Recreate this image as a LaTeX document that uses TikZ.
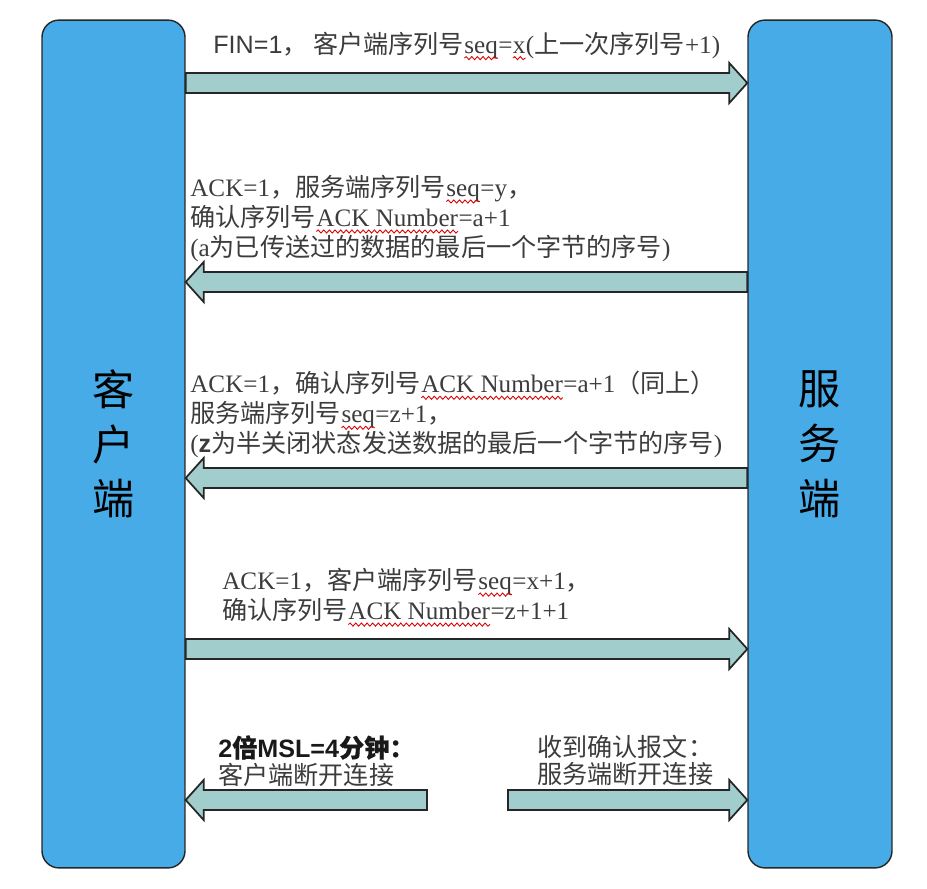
\documentclass[tikz,border=0pt]{standalone}
\usepackage{fontspec}
\setmainfont{Noto Sans CJK SC}
\newfontfamily\en{Liberation Serif}
\newfontfamily\ensans{Liberation Sans}
\newfontfamily\cjkbold[FakeBold=0.5]{Noto Sans CJK SC}
\usepackage{tikz}
\usetikzlibrary{calc,positioning,decorations.pathmorphing}
\usepackage{xcolor}
\definecolor{hostblue}{HTML}{47ABE8}
\definecolor{pipeteal}{HTML}{A2CDCD}
\definecolor{msggray}{HTML}{3C3C3C}
\tikzset{
  hostbar/.style={
    rounded corners=0.34cm,
    draw=black!85,
    fill=hostblue,
    line width=0.8pt,
    align=center,
    font=\fontsize{24}{31.2}\selectfont
  },
  pipe/.style={
    draw=black!85,
    fill=pipeteal,
    line width=1pt,
    line join=miter
  },
  msg/.style={
    inner sep=0pt,
    align=left,
    text=msggray,
    font=\fontsize{14.3}{17.07}\selectfont
  }
}
% red wavy spell-check line under a word
\newcommand{\spellmark}[1]{\tikz[baseline=(w.base)]{%
  \node[inner sep=0pt,outer sep=0pt] (w) {#1};
  \draw[red!85!black,line width=0.5pt,decorate,
    decoration={snake,amplitude=0.9pt,segment length=3.2pt}]
    ([yshift=-2.8pt]w.base west) -- ([yshift=-2.8pt]w.base east);}}
% block arrow from #1 to #2 (tip at #2)
\newcommand{\flowpipe}[2]{%
  \draw[pipe] ($(#1)+(0,0.2cm)$) -- ($(#2)!0.36cm!(#1)+(0,0.2cm)$)
    -- ($(#2)!0.36cm!(#1)+(0,0.4cm)$) -- (#2)
    -- ($(#2)!0.36cm!(#1)+(0,-0.4cm)$) -- ($(#2)!0.36cm!(#1)+(0,-0.2cm)$)
    -- ($(#1)+(0,-0.2cm)$) -- cycle;}

\begin{document}
\begin{tikzpicture}[x=0.02cm,y=-0.02cm]
\useasboundingbox (0,0) rectangle (927,889);

\node[hostbar, minimum width=2.86cm, minimum height=16.96cm] (client) at (113.5,444) {客\\户\\端};
\node[hostbar, minimum width=2.88cm, minimum height=16.96cm] (server) at (820,444) {服\\务\\端};

% FIN
\node[msg, anchor=west] (fin) at (213,46)
  {{\ensans FIN=1}，\ 客户端序列号{\en\spellmark{seq}=\spellmark{x}(}上一次序列号{\en+1)}};
\coordinate (fin1) at (client.east |- 0,83);
\coordinate (fin2) at (server.west |- 0,83);
\flowpipe{fin1}{fin2}

% ACK of FIN
\node[msg, anchor=north west] (ack) at (190,175)
  {{\en ACK=1}，服务端序列号{\en\spellmark{seq}=y}，\\
   确认序列号{\en\spellmark{ACK Number}=a+1}\\
   {\en(a}为已传送过的数据的最后一个字节的序号{\en)}};
\coordinate (ack1) at (server.west |- 0,282);
\coordinate (ack2) at (client.east |- 0,282);
\flowpipe{ack1}{ack2}

% server FIN
\node[msg, anchor=north west] (sfin) at (190,371)
  {{\en ACK=1}，确认序列号{\en\spellmark{ACK Number}=a+1}（同上）\\
   服务端序列号{\en\spellmark{seq}=z+1}，\\
   {\en(}{\ensans\bfseries z}为半关闭状态发送数据的最后一个字节的序号{\en)}};
\coordinate (sfin1) at (server.west |- 0,478);
\coordinate (sfin2) at (client.east |- 0,478);
\flowpipe{sfin1}{sfin2}

% last ACK
\node[msg, anchor=north west] (last) at (222,568)
  {{\en ACK=1}，客户端序列号{\en\spellmark{seq}=x+1}，\\
   确认序列号{\en\spellmark{ACK Number}=z+1+1}};
\coordinate (last1) at (client.east |- 0,649);
\coordinate (last2) at (server.west |- 0,649);
\flowpipe{last1}{last2}

% close
\node[msg, anchor=north west, font=\fontsize{14.3}{15.5}\selectfont] (cwait) at (218,735)
  {{\color{black!90}\ensans\bfseries 2\cjkbold 倍\ensans\bfseries MSL=4\cjkbold 分钟：}\\客户端断开连接};
\node[msg, anchor=north west, font=\fontsize{14.3}{15.5}\selectfont] (sdone) at (537,735)
  {收到确认报文：\\服务端断开连接};
\coordinate (cclose) at (427,800);
\coordinate (cend) at (client.east |- cclose);
\coordinate (sclose) at (508,800);
\coordinate (send) at (server.west |- sclose);
\flowpipe{cclose}{cend}
\flowpipe{sclose}{send}
\end{tikzpicture}
\end{document}
